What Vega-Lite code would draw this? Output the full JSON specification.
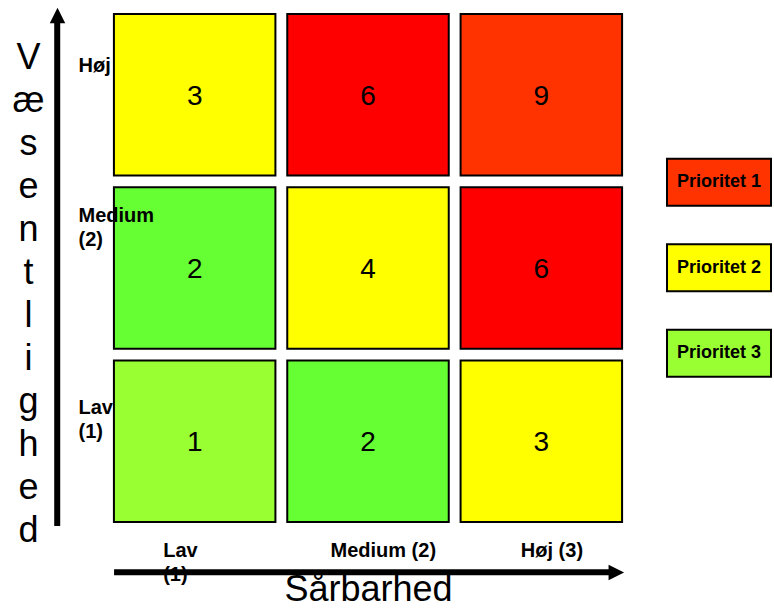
{
  "$schema": "https://vega.github.io/schema/vega-lite/v6.json",
  "width": 520,
  "height": 520,
  "autosize": {"type": "none"},
  "padding": {"left": 108, "top": 8, "right": 146, "bottom": 80},
  "background": "white",
  "config": {"view": {"stroke": null}, "font": "Liberation Sans", "axis": {"grid": false, "ticks": false, "domain": false}},
  "datasets": {
    "celler": [
      {"sarbarhed": 1, "vaesentlighed": 3, "score": 3},
      {"sarbarhed": 2, "vaesentlighed": 3, "score": 6},
      {"sarbarhed": 3, "vaesentlighed": 3, "score": 9},
      {"sarbarhed": 1, "vaesentlighed": 2, "score": 2},
      {"sarbarhed": 2, "vaesentlighed": 2, "score": 4},
      {"sarbarhed": 3, "vaesentlighed": 2, "score": 6},
      {"sarbarhed": 1, "vaesentlighed": 1, "score": 1},
      {"sarbarhed": 2, "vaesentlighed": 1, "score": 2},
      {"sarbarhed": 3, "vaesentlighed": 1, "score": 3}
    ],
    "prioriteter": [
      {"prioritet": 1, "tekst": "Prioritet 1"},
      {"prioritet": 2, "tekst": "Prioritet 2"},
      {"prioritet": 3, "tekst": "Prioritet 3"}
    ]
  },
  "resolve": {"scale": {"y": "independent", "color": "independent"}},
  "layer": [
    {
      "layer": [
        {
          "data": {"name": "celler"},
          "mark": {"type": "square", "size": 26082, "stroke": "black", "strokeWidth": 2, "opacity": 1},
          "encoding": {
            "x": {
              "field": "sarbarhed", "type": "quantitative",
              "scale": {"domain": [0.5, 3.5], "nice": false, "zero": false},
              "axis": {
                "values": [1, 2, 3],
                "labelExpr": "datum.value == 1 ? ['Lav','(1)'] : datum.value == 2 ? 'Medium (2)' : 'Høj (3)'",
                "ticks": false, "tickSize": 0, "domain": false, "grid": false,
                "labelFont": "Liberation Sans", "labelFontSize": 20, "labelFontWeight": "bold", "labelColor": "black",
                "labelAlign": "left", "labelBaseline": "alphabetic", "labelPadding": 28, "labelLineHeight": 24,
                "labelOffset": {"condition": [{"test": "datum.value == 1", "value": -32}, {"test": "datum.value == 2", "value": -38}], "value": -21},
                "labelFlush": false, "labelOverlap": false,
                "title": "Sårbarhed", "titleFont": "Liberation Sans", "titleFontSize": 36, "titleFontWeight": "normal",
                "titleColor": "black", "titleBaseline": "alphabetic", "titleY": 72
              }
            },
            "y": {
              "field": "vaesentlighed", "type": "quantitative",
              "scale": {"domain": [0.5, 3.5], "nice": false, "zero": false},
              "axis": {
                "values": [1, 2, 3],
                "labelExpr": "datum.value == 3 ? 'Høj' : datum.value == 2 ? ['Medium','(2)'] : ['Lav','(1)']",
                "ticks": false, "tickSize": 0, "domain": false, "grid": false, "zindex": 1,
                "labelFont": "Liberation Sans", "labelFontSize": 20, "labelFontWeight": "bold", "labelColor": "black",
                "labelAlign": "left", "labelBaseline": "alphabetic",
                "labelPadding": 30, "labelLineHeight": 24,
                "labelOffset": {"condition": [{"test": "datum.value == 3", "value": -23}, {"test": "datum.value == 2", "value": -47}], "value": -28},
                "labelFlush": false, "labelOverlap": false,
                "title": ["V", "æ", "s", "e", "n", "t", "l", "i", "g", "h", "e", "d"],
                "titleAngle": 0, "titleAlign": "center", "titleBaseline": "alphabetic",
                "titleX": -80, "titleY": 60, "titleLineHeight": 43,
                "titleFont": "Liberation Sans", "titleFontSize": 36, "titleFontWeight": "normal", "titleColor": "black"
              }
            },
            "color": {
              "field": "score", "type": "ordinal",
              "scale": {"domain": [1, 2, 3, 4, 6, 9], "range": ["#99FF33", "#66FF33", "#FFFF00", "#FFFF00", "#FF0000", "#FF3300"]},
              "legend": null
            }
          }
        },
        {
          "data": {"name": "celler"},
          "mark": {"type": "text", "font": "Liberation Sans", "fontSize": 28, "color": "black", "baseline": "middle", "dy": 2},
          "encoding": {
            "x": {"field": "sarbarhed", "type": "quantitative"},
            "y": {"field": "vaesentlighed", "type": "quantitative"},
            "text": {"field": "score"}
          }
        },
        {
          "data": {"values": [{"akse": "Væsentlighed"}]},
          "mark": {"type": "rule", "color": "black", "strokeWidth": 6},
          "encoding": {
            "x": {"datum": 0.207, "type": "quantitative"},
            "y": {"datum": 0.5115, "type": "quantitative"},
            "y2": {"datum": 3.431}
          }
        },
        {
          "data": {"values": [{"akse": "Væsentlighed"}]},
          "mark": {"type": "point", "shape": "M0,-1L1,1L-1,1Z", "filled": true, "color": "black", "opacity": 1, "size": 240},
          "encoding": {
            "x": {"datum": 0.2087, "type": "quantitative"},
            "y": {"datum": 3.457, "type": "quantitative"}
          }
        },
        {
          "data": {"values": [{"akse": "Sårbarhed"}]},
          "mark": {"type": "rule", "color": "black", "strokeWidth": 6},
          "encoding": {
            "x": {"datum": 0.535, "type": "quantitative"},
            "x2": {"datum": 3.396},
            "y": {"datum": 0.245, "type": "quantitative"}
          }
        },
        {
          "data": {"values": [{"akse": "Sårbarhed"}]},
          "mark": {"type": "point", "shape": "M1,0L-1,-1L-1,1Z", "filled": true, "color": "black", "opacity": 1, "size": 240},
          "encoding": {
            "x": {"datum": 3.4326, "type": "quantitative"},
            "y": {"datum": 0.243, "type": "quantitative"}
          }
        }
      ]
    },
    {
      "data": {"name": "prioriteter"},
      "encoding": {
        "y": {
          "field": "prioritet", "type": "quantitative",
          "scale": {"domain": [-0.977, 4.983], "reverse": true, "nice": false, "zero": false},
          "axis": null
        }
      },
      "layer": [
        {
          "mark": {"type": "bar", "height": 47, "stroke": "black", "strokeWidth": 2},
          "encoding": {
            "x": {"datum": 3.725, "type": "quantitative"},
            "x2": {"datum": 4.325},
            "color": {
              "field": "prioritet", "type": "ordinal",
              "scale": {"domain": [1, 2, 3], "range": ["#FF3300", "#FFFF00", "#99FF33"]},
              "legend": null
            }
          }
        },
        {
          "mark": {"type": "text", "font": "Liberation Sans", "fontSize": 18, "fontWeight": "bold", "color": "black", "baseline": "middle"},
          "encoding": {
            "x": {"datum": 4.025, "type": "quantitative"},
            "text": {"field": "tekst"}
          }
        }
      ]
    }
  ]
}
